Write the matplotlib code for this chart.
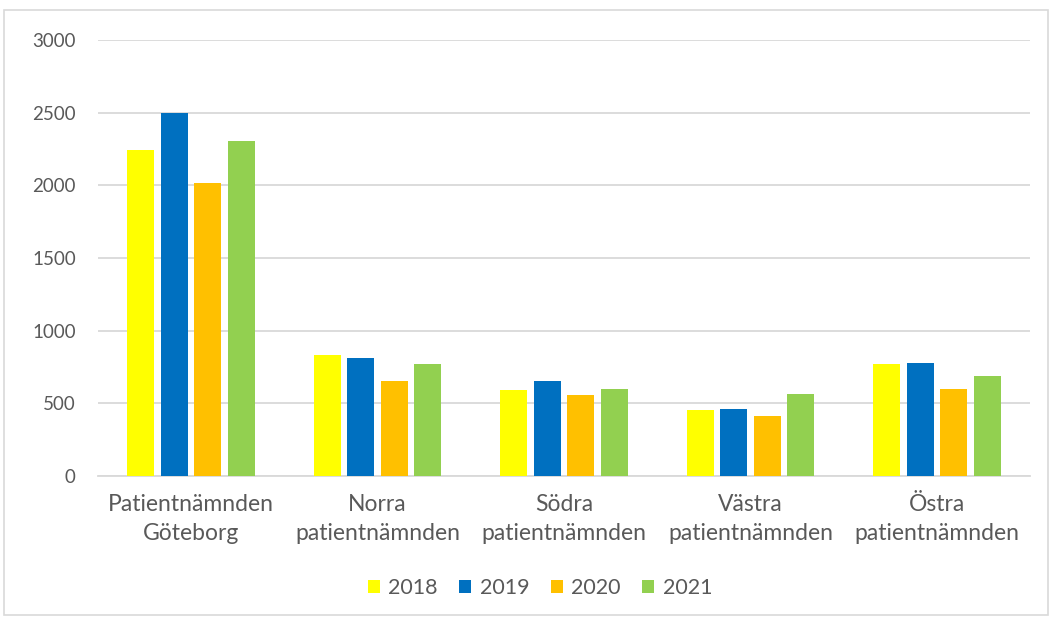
import matplotlib.pyplot as plt
from matplotlib.patches import Rectangle
import numpy as np

categories = ["Patientnämnden\nGöteborg", "Norra\npatientnämnden", "Södra\npatientnämnden",
              "Västra\npatientnämnden", "Östra\npatientnämnden"]
years = ["2018", "2019", "2020", "2021"]
v2018 = [2246, 830, 592, 451, 771]
v2019 = [2497, 815, 655, 460, 780]
v2020 = [2017, 655, 558, 414, 602]
v2021 = [2308, 771, 599, 567, 690]
series = [v2018, v2019, v2020, v2021]
colors = ["#FFFF00", "#0070C0", "#FFC000", "#92D050"]
yticks = [0, 500, 1000, 1500, 2000, 2500, 3000]

plt.rcParams['font.family'] = ['Lato', 'DejaVu Sans']
fig = plt.figure(figsize=(10.53, 6.19), dpi=100)
ax = fig.add_axes([98/1053, 1-476/619, 932/1053, 436/619])

x = np.arange(len(categories))
w = 0.145
step = 0.18
for i, (vals, c, yr) in enumerate(zip(series, colors, years)):
    ax.bar(x + (i - 1.5) * step, vals, width=w, color=c, label=yr, zorder=3)

ax.set_ylim(0, 3000)
ax.set_xlim(-0.5, len(categories) - 0.5)
ax.set_yticks(yticks)
ax.set_yticklabels([str(t) for t in yticks])
ax.grid(axis='y', color='#D9D9D9', linewidth=1.3, zorder=0)
for s in ['top', 'right', 'left']:
    ax.spines[s].set_visible(False)
ax.spines['bottom'].set_color('#D9D9D9')
ax.spines['bottom'].set_linewidth(1.3)
ax.set_xticks(x)
ax.set_xticklabels(categories, linespacing=1.45)
ax.tick_params(axis='both', length=0, colors='#595959')
ax.tick_params(axis='y', pad=16, labelsize=13.5)
ax.tick_params(axis='x', pad=13, labelsize=16.5)

leg = fig.legend(loc='center', bbox_to_anchor=(540/1053, 1-588/619), ncol=4, frameon=False,
                 fontsize=15.5, handlelength=0.55, handleheight=0.55, handletextpad=0.4,
                 columnspacing=1.0)
for t in leg.get_texts():
    t.set_color('#595959')

fig.patches.append(Rectangle((4/1053, 4/619), 1044/1053, 605/619, transform=fig.transFigure,
                             fill=False, edgecolor='#D9D9D9', linewidth=1.2))

fig.savefig('out.png', dpi=100)
